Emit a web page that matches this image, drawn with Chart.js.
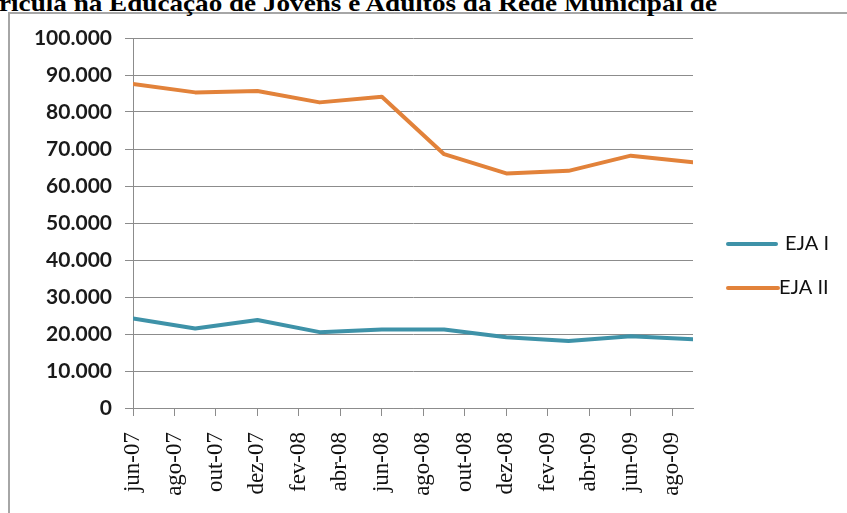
<!DOCTYPE html>
<html>
<head>
<meta charset="utf-8">
<script src="https://cdn.jsdelivr.net/npm/chart.js@4/dist/chart.umd.min.js"></script>
<style>
  html, body { margin: 0; padding: 0; background: #fff; }
  body { width: 847px; height: 513px; position: relative; overflow: hidden; }
  #frame { position: absolute; left: 8px; top: 12px; width: 900px; height: 600px; border: 2px solid #A6A6A6; box-sizing: border-box; }
  #title { position: absolute; left: -1px; top: -9px; font: bold 24px "Liberation Serif", "Times New Roman", serif; color: #000; white-space: nowrap; line-height: 24px; }
  #wrap { position: absolute; left: 0; top: 0; width: 847px; height: 513px; }
</style>
</head>
<body>
<div id="frame"></div>
<div id="title">rícula na Educação de Jovens e Adultos da Rede Municipal de</div>
<div id="wrap"><canvas id="c" width="847" height="513"></canvas></div>
<script>
const monthNames = ['jan','fev','mar','abr','mai','jun','jul','ago','set','out','nov','dez'];
const categories = ['jun-07','set-07','dez-07','mar-08','jun-08','set-08','dez-08','mar-09','jun-09','set-09'];
const ejaI  = [24200, 21500, 23800, 20500, 21200, 21200, 19100, 18100, 19400, 18600];
const ejaII = [87600, 85300, 85700, 82600, 84100, 68600, 63400, 64100, 68200, 66400];
const tickLabels = ['jun-07','ago-07','out-07','dez-07','fev-08','abr-08','jun-08','ago-08','out-08','dez-08','fev-09','abr-09','jun-09','ago-09'];
const yTicks = [0,10000,20000,30000,40000,50000,60000,70000,80000,90000,100000];

function monthIndex(lbl) {
  const [m, y] = lbl.split('-');
  const idx = (2000 + parseInt(y, 10)) * 12 + monthNames.indexOf(m);
  const base = 2007 * 12 + monthNames.indexOf('jun');
  return idx - base;
}
function fmt(v) { return String(v).replace(/\B(?=(\d{3})+(?!\d))/g, '.'); }

(function(){
  const t = document.getElementById('title');
  const w = t.getBoundingClientRect().width;
  const target = 718;
  t.style.transformOrigin = '0 0';
  t.style.transform = 'scaleX(' + (target / w) + ')';
})();

const seriesI  = categories.map((c, i) => ({ x: monthIndex(c), y: ejaI[i] }));
const seriesII = categories.map((c, i) => ({ x: monthIndex(c), y: ejaII[i] }));
const xMax = monthIndex(categories[categories.length - 1]);

const legendPlugin = {
  id: 'customLegend',
  afterDraw(chart) {
    const ctx = chart.ctx;
    const items = [
      { ds: chart.data.datasets[0], y: 244, x1: 728, x2: 776, tx: 785 },
      { ds: chart.data.datasets[1], y: 288, x1: 728, x2: 778, tx: 779 }
    ];
    ctx.save();
    items.forEach(it => {
      ctx.strokeStyle = it.ds.borderColor;
      ctx.lineWidth = 4;
      ctx.lineCap = 'round';
      ctx.beginPath(); ctx.moveTo(it.x1, it.y); ctx.lineTo(it.x2, it.y); ctx.stroke();
      ctx.fillStyle = '#111';
      ctx.font = '20px Lato, "Open Sans", sans-serif';
      ctx.textBaseline = 'middle';
      ctx.textAlign = 'left';
      ctx.fillText(it.ds.label, it.tx, it.y);
    });
    ctx.restore();
  }
};

new Chart(document.getElementById('c'), {
  type: 'line',
  data: {
    datasets: [
      { label: 'EJA I', data: seriesI, borderColor: '#3E92A8', borderWidth: 4, pointRadius: 0, tension: 0, borderJoinStyle: 'round', borderCapStyle: 'round' },
      { label: 'EJA II', data: seriesII, borderColor: '#E2823A', borderWidth: 4, pointRadius: 0, tension: 0, borderJoinStyle: 'round', borderCapStyle: 'round' }
    ]
  },
  options: {
    responsive: false,
    animation: false,
    devicePixelRatio: 1,
    layout: { padding: { top: 38, right: 154, left: 0, bottom: 0 } },
    plugins: { legend: { display: false }, tooltip: { enabled: false }, title: { display: false } },
    scales: {
      x: {
        type: 'linear',
        min: 0,
        max: xMax,
        afterBuildTicks(scale) { scale.ticks = tickLabels.map(l => ({ value: monthIndex(l) })); },
        afterFit(scale) { scale.height = 105; },
        grid: { drawOnChartArea: false, drawTicks: true, tickLength: 8, color: '#8C8C8C', lineWidth: 1 },
        border: { color: '#8C8C8C', width: 1 },
        ticks: {
          autoSkip: false,
          minRotation: 90,
          maxRotation: 90,
          padding: 16,
          color: '#111',
          font: { family: '"Liberation Serif", "Times New Roman", serif', size: 23 },
          callback(v) { const i = tickLabels.findIndex(l => monthIndex(l) === v); return i >= 0 ? tickLabels[i] : ''; }
        }
      },
      y: {
        min: 0,
        max: 100000,
        afterBuildTicks(scale) { scale.ticks = yTicks.map(v => ({ value: v })); },
        afterFit(scale) { scale.width = 133; },
        grid: { color: '#8C8C8C', lineWidth: 1, drawTicks: true, tickLength: 8 },
        border: { color: '#8C8C8C', width: 1 },
        ticks: {
          padding: 13,
          color: '#1a1a1a',
          font: { family: 'Lato, "Open Sans", sans-serif', size: 21, weight: 'bold' },
          callback(v) { return fmt(v); }
        }
      }
    }
  },
  plugins: [legendPlugin]
});
</script>
</body>
</html>
